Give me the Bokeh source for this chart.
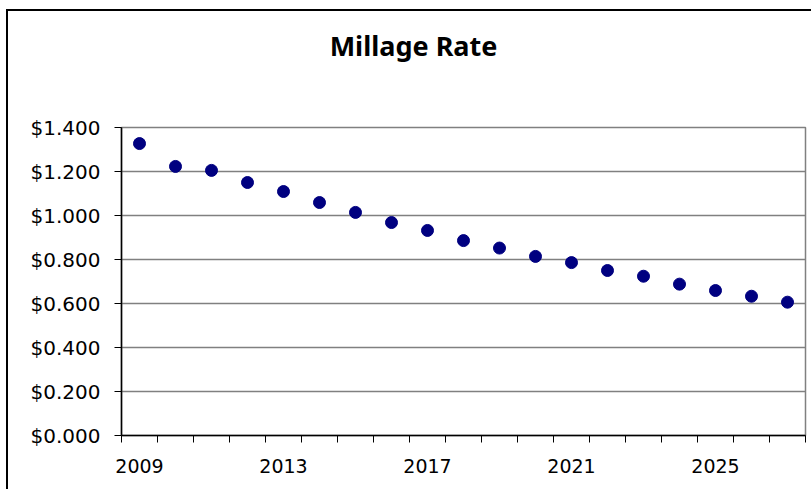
from bokeh.plotting import figure
from bokeh.models import FixedTicker, NumeralTickFormatter, Range1d, Div
from bokeh.layouts import column
from bokeh.embed import file_html
from bokeh.resources import INLINE

years = list(range(2009, 2028))
rates = [1.327, 1.223, 1.205, 1.150, 1.109, 1.059, 1.014, 0.968, 0.932, 0.886,
         0.852, 0.814, 0.786, 0.750, 0.724, 0.688, 0.659, 0.633, 0.606]
x_labels = [2009, 2013, 2017, 2021, 2025]
y_ticks = [0.0, 0.2, 0.4, 0.6, 0.8, 1.0, 1.2, 1.4]
title_text = "Millage Rate"

title_div = Div(text=title_text, width=803, height=70, margin=(0, 0, 0, 0),
                styles={"font-family": "Noto Sans", "font-weight": "bold",
                        "font-size": "27px", "text-align": "center",
                        "line-height": "70px", "text-indent": "8px", "color": "black"})

p = figure(width=803, height=408, output_backend="svg", toolbar_location=None,
           margin=(0, 0, 0, 0),
           x_range=Range1d(years[0] - 0.5, years[-1] + 0.5),
           y_range=Range1d(0, 1.4),
           min_border_left=113, min_border_right=6, min_border_top=46, min_border_bottom=54)

p.scatter(years, rates, size=12, color="#000080")

p.xaxis.ticker = FixedTicker(ticks=x_labels, minor_ticks=[y - 0.5 for y in years] + [years[-1] + 0.5])
p.xaxis.major_tick_out = 0
p.xaxis.major_tick_in = 0
p.xaxis.minor_tick_out = 7
p.xaxis.minor_tick_in = 0
p.xaxis.minor_tick_line_color = "black"
p.xaxis.major_label_standoff = 16

p.yaxis.ticker = FixedTicker(ticks=y_ticks)
p.yaxis.formatter = NumeralTickFormatter(format="$0.000")
p.yaxis.major_tick_out = 7
p.yaxis.major_tick_in = 0
p.yaxis.minor_tick_out = 0
p.yaxis.minor_tick_in = 0
p.yaxis.major_label_standoff = 14

for ax in (p.xaxis, p.yaxis):
    ax.axis_line_color = "black"
    ax.axis_line_width = 1.5
    ax.major_tick_line_color = "black"
    ax.major_label_text_font = "DejaVu Sans"
    ax.major_label_text_color = "black"
p.xaxis.major_label_text_font_size = "19px"
p.yaxis.major_label_text_font_size = "20px"

p.xgrid.visible = False
p.ygrid.ticker = FixedTicker(ticks=y_ticks)
p.ygrid.grid_line_color = "#808080"
p.ygrid.grid_line_width = 1.5
p.outline_line_color = "#808080"
p.outline_line_width = 1.5

layout = column(title_div, p, spacing=0, margin=(9, 0, 0, 6),
                styles={"border-left": "2px solid black", "border-top": "2px solid black"})

open("out.html", "w").write(file_html(layout, INLINE))
